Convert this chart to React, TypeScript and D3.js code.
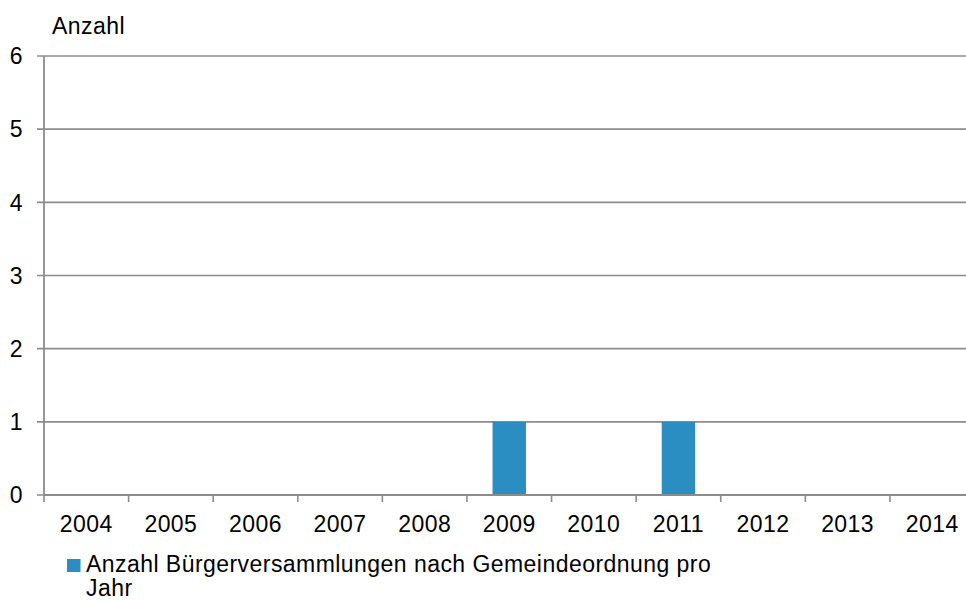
import React from "react";
import * as d3 from "d3";

const years = ["2004", "2005", "2006", "2007", "2008", "2009", "2010", "2011", "2012", "2013", "2014"];
const counts = [0, 0, 0, 0, 0, 1, 0, 1, 0, 0, 0];
const yTicks = [0, 1, 2, 3, 4, 5, 6];
const seriesName = "Anzahl Bürgerversammlungen nach Gemeindeordnung pro";
const seriesName2 = "Jahr";
const yTitle = "Anzahl";

export default function App() {
  const W = 966, H = 600;
  const x0 = 44, plotRight = 974.5;
  const yTop = 56, yBottom = 495;
  const x = d3.scaleBand<string>().domain(years).range([x0, plotRight]).paddingInner(0).paddingOuter(0);
  const y = d3.scaleLinear().domain([0, 6]).range([yBottom, yTop]);
  const barW = x.bandwidth() * 0.395;
  const font = "Liberation Sans, Arial, sans-serif";
  const grid = "#8c8c8c";
  const fs = 23;
  const ls = 0.45;
  return (
    <svg width={W} height={H} style={{ position: "absolute", left: 0, top: 0 }} fontFamily={font} letterSpacing={ls}>
      <rect width={W} height={H} fill="#fff" />
      {yTicks.map((t) => (
        <g key={t}>
          <line x1={37} x2={W} y1={y(t)} y2={y(t)} stroke={grid} strokeWidth={1.6} />
          <text x={23} y={y(t)} dy="0.36em" textAnchor="end" fontSize={fs} fill="#000">{t}</text>
        </g>
      ))}
      <line x1={x0} x2={x0} y1={yTop} y2={yBottom} stroke={grid} strokeWidth={1.8} />
      {years.map((yr) => (
        <line key={"t" + yr} x1={x(yr)!} x2={x(yr)!} y1={yBottom} y2={yBottom + 7} stroke={grid} strokeWidth={1.6} />
      ))}
      {years.map((yr, i) => (
        counts[i] > 0 ? (
          <rect key={"b" + yr} x={x(yr)! + x.bandwidth() / 2 - barW / 2} y={y(counts[i])} width={barW} height={y(0) - y(counts[i])} fill="#2A8EC2" />
        ) : null
      ))}
      <line x1={x0} x2={W} y1={yBottom} y2={yBottom} stroke={grid} strokeWidth={1.8} />
      {years.map((yr) => (
        <text key={"l" + yr} x={x(yr)! + x.bandwidth() / 2} y={532} textAnchor="middle" fontSize={fs} fill="#000">{yr}</text>
      ))}
      <text x={52} y={34} fontSize={fs} fill="#000">{yTitle}</text>
      <rect x={67} y={559} width={13.5} height={13} fill="#2A8EC2" />
      <text x={86} y={572} fontSize={fs} fill="#000">{seriesName}</text>
      <text x={86} y={596} fontSize={fs} fill="#000">{seriesName2}</text>
    </svg>
  );
}
